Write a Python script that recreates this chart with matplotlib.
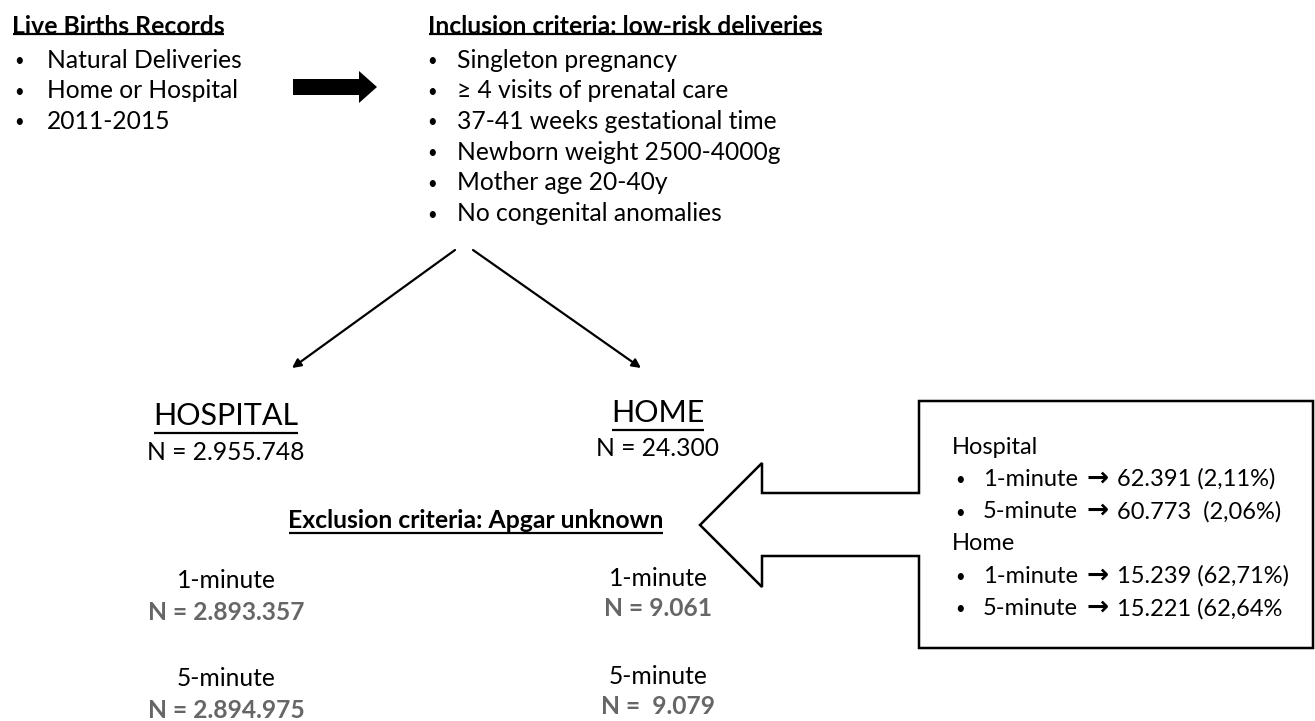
import matplotlib
matplotlib.use("Agg")
import matplotlib.pyplot as plt
from matplotlib.patches import Polygon, FancyArrow

# ---------------- data ----------------
source_title = "Live Births Records"
source_items = ["Natural Deliveries", "Home or Hospital", "2011-2015"]

inclusion_title = "Inclusion criteria: low-risk deliveries"
inclusion_items = ["Singleton pregnancy", "\u2265 4 visits of prenatal care",
                   "37-41 weeks gestational time", "Newborn weight 2500-4000g",
                   "Mother age 20-40y", "No congenital anomalies"]

groups = ["HOSPITAL", "HOME"]
group_totals = ["2.955.748", "24.300"]

exclusion_title = "Exclusion criteria: Apgar unknown"
apgar_labels = ["1-minute", "5-minute"]
hospital_n = ["2.893.357", "2.894.975"]
home_n = ["9.061", " 9.079"]

excl_groups = ["Hospital", "Home"]
excl_hospital = ["62.391 (2,11%)", "60.773  (2,06%)"]
excl_home = ["15.239 (62,71%)", "15.221 (62,64%"]

# ---------------- figure ----------------
FONT = ["Lato", "DejaVu Sans"]
W, H = 1315, 721
fig = plt.figure(figsize=(W / 100, H / 100), dpi=100)
ax = fig.add_axes([0, 0, 1, 1])
ax.set_xlim(0, W)
ax.set_ylim(H, 0)
ax.axis("off")

BODY = 17.7
CALL = 17
TITLE = 17.8
BIG = 22
BUL = 12
GRAY = "#666666"

underlines = []


def txt(x, y, s, size=BODY, weight="normal", ha="left", color="black", ul=None,
        family=FONT):
    t = ax.text(x, y, s, fontsize=size, fontweight=weight, ha=ha, va="center",
                color=color, family=family)
    if ul is not None:
        underlines.append((t, ul))
    return t


def bullet(x, y):
    ax.text(x, y + 1, "\u2022", fontsize=BUL, ha="center", va="center",
            color="black", family=FONT)


# Left block
txt(12, 26, source_title, size=TITLE, weight="bold", ul=34)
for i, item in enumerate(source_items):
    y = 60 + i * 30.7
    bullet(19, y)
    txt(47, y, item)

# Block arrow
ax.add_patch(FancyArrow(293, 87, 84, 0, width=16, head_width=32, head_length=18,
                        length_includes_head=True, color="black", lw=0))

# Inclusion block
txt(428, 26, inclusion_title, size=TITLE, weight="bold", ul=34)
for i, item in enumerate(inclusion_items):
    y = 60 + i * 30.7
    bullet(432, y)
    txt(457, y, item)

# Diagonal arrows
for (x0, y0), (x1, y1) in [((455, 250), (292, 368)), ((473, 250), (641, 368))]:
    ax.annotate("", xy=(x1, y1), xytext=(x0, y0),
                arrowprops=dict(arrowstyle="-|>", color="black", lw=1.6,
                                mutation_scale=13, shrinkA=0, shrinkB=0))

# Groups
centers = [226, 658]
group_y = [416, 413]
for cx, gy, g, n in zip(centers, group_y, groups, group_totals):
    txt(cx, gy, g, size=BIG, ha="center", ul=gy + 17)
    txt(cx, gy + 36, "N = " + n, ha="center")

txt(476, 520, exclusion_title, size=TITLE, weight="bold", ha="center", ul=533)

for cx, ns, base in zip(centers, [hospital_n, home_n], [581, 578]):
    for j, (lab, n) in enumerate(zip(apgar_labels, ns)):
        y = base + j * 98
        txt(cx, y, lab, ha="center")
        txt(cx, y + 31, "N = " + n, ha="center", weight="bold", color=GRAY)

# Callout box with left arrow
bx0, bx1, by0, by1 = 919, 1313, 401, 648
poly = [(bx0, by0), (bx1, by0), (bx1, by1), (bx0, by1), (bx0, 556),
        (762, 556), (762, 587), (700, 525), (762, 463), (762, 493), (bx0, 493)]
ax.add_patch(Polygon(poly, closed=True, facecolor="white", edgecolor="black", lw=1.8,
                     joinstyle="miter"))

y = 447
for g, vals in zip(excl_groups, [excl_hospital, excl_home]):
    txt(952, y, g, size=CALL)
    y += 32.3
    for lab, v in zip(apgar_labels, vals):
        bullet(960, y)
        txt(983, y, lab, size=CALL)
        txt(1098, y - 1, "\u2192", size=19, ha="center", weight="bold",
            family=["DejaVu Sans"])
        txt(1117, y, v, size=CALL)
        y += 32.3

# underlines
fig.canvas.draw()
r = fig.canvas.get_renderer()
inv = ax.transData.inverted()
for t, uy in underlines:
    bb = t.get_window_extent(r)
    (xa, _), (xb, _) = inv.transform([(bb.x0, bb.y0), (bb.x1, bb.y1)])
    ax.plot([xa + 1, xb - 1], [uy, uy], color="black", lw=1.6, solid_capstyle="butt")

fig.savefig("out.png", dpi=100, facecolor="white")
